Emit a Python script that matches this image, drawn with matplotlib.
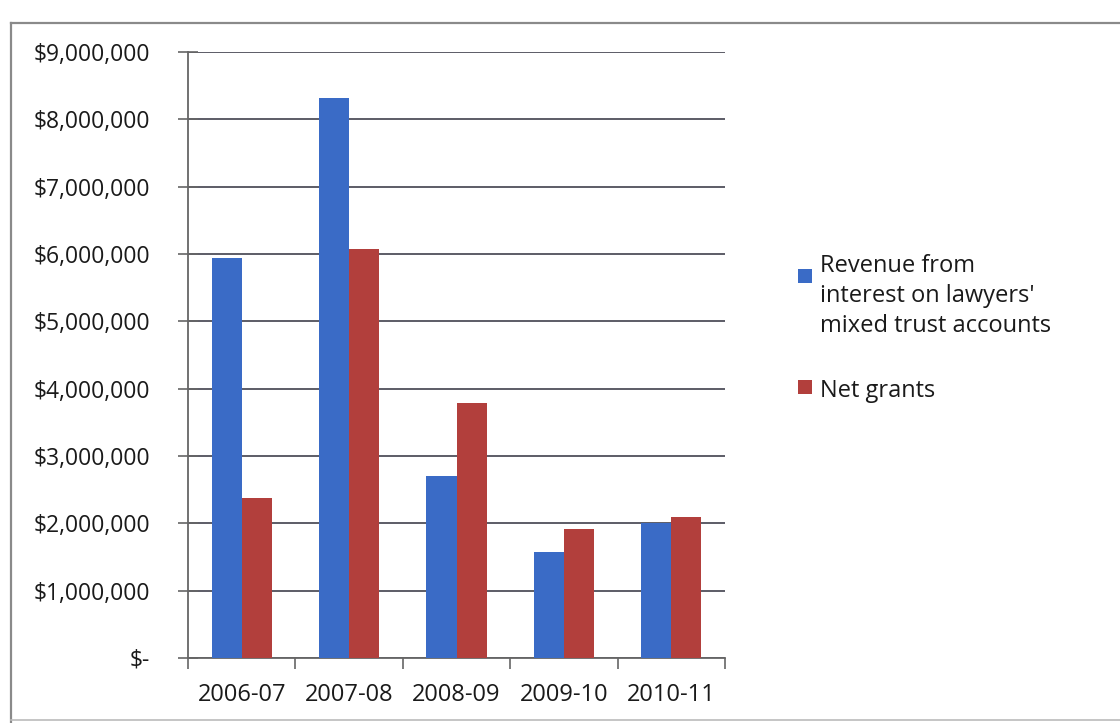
import matplotlib.pyplot as plt
from matplotlib.patches import Rectangle
from matplotlib.lines import Line2D
import numpy as np

years = ['2006-07', '2007-08', '2008-09', '2009-10', '2010-11']
revenue = [5940000, 8310000, 2700000, 1570000, 2010000]
net_grants = [2370000, 6070000, 3780000, 1910000, 2100000]
labels = ["Revenue from\ninterest on lawyers'\nmixed trust accounts", 'Net grants']
colors = ['#3a6bc6', '#b23f3c']

plt.rcParams['font.family'] = ['Open Sans', 'DejaVu Sans']
W, H = 1120, 723

fig = plt.figure(figsize=(W / 100, H / 100), dpi=100)
ax = fig.add_axes([188 / W, 1 - 658 / H, 537 / W, 606 / H])

x = np.arange(len(years))
w = 0.28
ax.bar(x - w / 2, revenue, w, color=colors[0], zorder=3)
ax.bar(x + w / 2, net_grants, w, color=colors[1], zorder=3)

ax.set_xlim(-0.5, len(years) - 0.5)
ax.set_ylim(0, 9000000)
ticks = np.arange(0, 9000001, 1000000)
ax.set_yticks(ticks)
ax.set_yticklabels(['$-'] + ['${:,.0f}'.format(v) for v in ticks[1:]])
ax.set_xticks(x)
ax.set_xticklabels(years)
ax.set_xticks(np.arange(-0.5, len(years)), minor=True)

ax.grid(axis='y', color='#5c5c66', linewidth=1.4, zorder=0)
for s in ['top', 'right']:
    ax.spines[s].set_visible(False)
for s in ['left', 'bottom']:
    ax.spines[s].set_color('#666666')
    ax.spines[s].set_linewidth(1.3)

ax.tick_params(axis='y', which='major', direction='inout', length=15, width=1.2,
               color='#666666', labelsize=16.5, pad=20, labelcolor='#1a1a1a')
ax.tick_params(axis='x', which='major', length=0, labelsize=17, pad=18, labelcolor='#1a1a1a')
ax.tick_params(axis='x', which='minor', direction='out', length=8, width=1.2, color='#666666')

# outer frame of the scanned chart
fx = 11 / W
fy_top = 1 - 23 / H
fy_bot = 1 - 720 / H
fig.add_artist(Line2D([fx, fx], [0, fy_top], color='#8a8a8a', lw=1.6))
fig.add_artist(Line2D([fx, 1], [fy_top, fy_top], color='#8a8a8a', lw=1.6))
fig.add_artist(Line2D([fx, 1], [fy_bot, fy_bot], color='#bbbbbb', lw=1.2))

# legend
sq_tops = [269, 380]
first_baselines = [272, 397]
for lab, c, sq, base in zip(labels, colors, sq_tops, first_baselines):
    fig.add_artist(Rectangle((798 / W, 1 - (sq + 14) / H), 14 / W, 14 / H,
                             facecolor=c, edgecolor='none'))
    for k, line in enumerate(lab.split('\n')):
        fig.text(820 / W, 1 - (base + 30 * k) / H, line, fontsize=17, va='baseline',
                 ha='left', color='#1a1a1a')

fig.savefig('out.png', dpi=100)
